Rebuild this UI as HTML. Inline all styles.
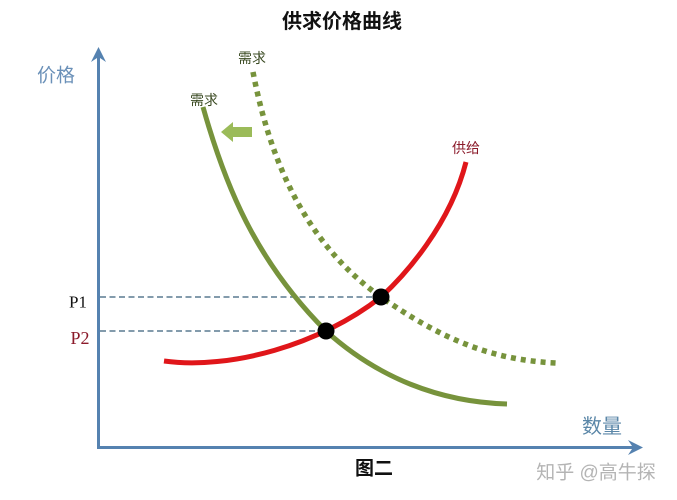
<!DOCTYPE html>
<html><head><meta charset="utf-8"><style>
html,body{margin:0;padding:0;background:#fff;}
svg{display:block;}
text{font-family:"Liberation Sans","Noto Sans CJK SC",sans-serif;}
</style></head><body>
<svg width="677" height="500" viewBox="0 0 677 500" xmlns="http://www.w3.org/2000/svg">
<rect width="677" height="500" fill="#fff"/>
<text x="342" y="22" text-anchor="middle" dominant-baseline="central" font-size="20" font-weight="bold" fill="#111">供求价格曲线</text>
<!-- axes -->
<line x1="98.5" y1="52" x2="98.5" y2="448" stroke="#5582b0" stroke-width="3"/>
<line x1="97" y1="447.5" x2="638" y2="447.5" stroke="#5582b0" stroke-width="3"/>
<polygon points="98.5,47 106,62 98.5,57 91,62" fill="#5582b0"/>
<polygon points="643,447.5 628,440 633,447.5 628,455" fill="#5582b0"/>
<text x="56" y="76" text-anchor="middle" dominant-baseline="central" font-size="19" fill="#6a90b8">价格</text>
<text x="602" y="427" text-anchor="middle" dominant-baseline="central" font-size="20" fill="#5b87a8">数量</text>
<!-- dashed lines -->
<line x1="100" y1="297" x2="381" y2="297" stroke="#5a7a90" stroke-width="1.5" stroke-dasharray="6 3.5"/>
<line x1="100" y1="331" x2="326" y2="331" stroke="#5a7a90" stroke-width="1.5" stroke-dasharray="6 3.5"/>
<text x="78" y="302" text-anchor="middle" dominant-baseline="central" font-size="17" fill="#111" style="font-family:'Liberation Serif',serif">P1</text>
<text x="80" y="338" text-anchor="middle" dominant-baseline="central" font-size="18" fill="#8b1a2a" style="font-family:'Liberation Serif',serif">P2</text>
<!-- dotted demand -->
<path d="M253,72 C268,150 300,240 381,297 C440,338 490,360 556,363" fill="none" stroke="#77933c" stroke-width="5.5" stroke-dasharray="5 5"/>
<!-- solid demand -->
<path d="M203,107 C225,185 255,260 326,331 C378,378 440,402 507,404" fill="none" stroke="#77933c" stroke-width="5"/>
<!-- supply -->
<path d="M164,361 C230,370 320,345 381,297 C405,275 450,225 466,162" fill="none" stroke="#e0161a" stroke-width="5"/>
<!-- dots -->
<circle cx="381" cy="297" r="8.5" fill="#000"/>
<circle cx="326" cy="331" r="8.5" fill="#000"/>
<!-- shift arrow -->
<polygon points="221,132 233,122 233,127 252,127 252,137 233,137 233,142" fill="#9bbb59"/>
<!-- labels -->
<text x="252" y="58" text-anchor="middle" dominant-baseline="central" font-size="14" fill="#3a4a22">需求</text>
<text x="204" y="100" text-anchor="middle" dominant-baseline="central" font-size="14" fill="#3a4a22">需求</text>
<text x="466" y="148" text-anchor="middle" dominant-baseline="central" font-size="14" fill="#8b1a2a">供给</text>
<text x="374" y="469" text-anchor="middle" dominant-baseline="central" font-size="19" font-weight="bold" fill="#111">图二</text>
<text x="596" y="473" text-anchor="middle" dominant-baseline="central" font-size="19" fill="#b4b4b4">知乎 @高牛探</text>
</svg>
</body></html>
